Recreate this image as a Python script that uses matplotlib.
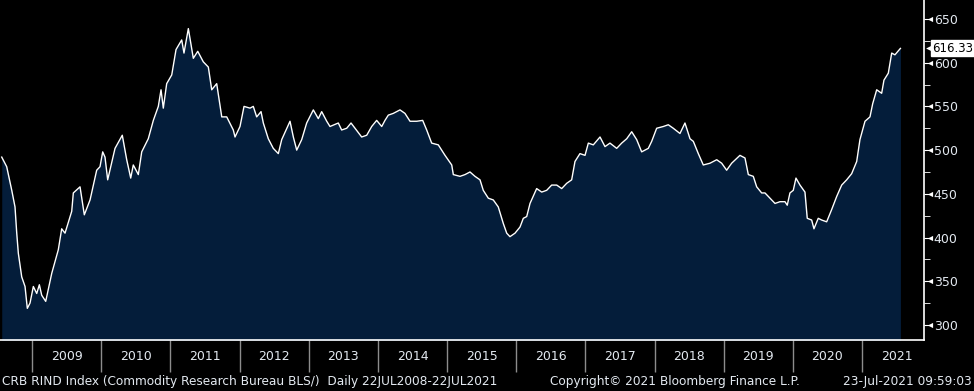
import matplotlib
matplotlib.use('Agg')
import matplotlib.pyplot as plt
import matplotlib.transforms as mtransforms

# CRB RIND index (decimal years, index level)
years = [2008.562, 2008.634, 2008.707, 2008.754, 2008.779, 2008.802, 2008.851, 2008.899, 2008.932, 2008.971,
         2009.019, 2009.068, 2009.106, 2009.140, 2009.198, 2009.285, 2009.380, 2009.429, 2009.477, 2009.574,
         2009.597, 2009.694, 2009.756, 2009.839, 2009.935, 2009.983, 2010.022, 2010.055, 2010.094, 2010.200,
         2010.305, 2010.369, 2010.427, 2010.464, 2010.537, 2010.586, 2010.681, 2010.754, 2010.826, 2010.865,
         2010.898, 2010.947, 2011.020, 2011.082, 2011.164, 2011.197, 2011.260, 2011.332, 2011.396, 2011.476,
         2011.549, 2011.598, 2011.670, 2011.743, 2011.815, 2011.910, 2011.935, 2012.007, 2012.065, 2012.152,
         2012.199, 2012.248, 2012.311, 2012.344, 2012.416, 2012.488, 2012.561, 2012.610, 2012.730, 2012.778,
         2012.827, 2012.899, 2012.971, 2013.067, 2013.139, 2013.188, 2013.261, 2013.308, 2013.428, 2013.477,
         2013.550, 2013.612, 2013.670, 2013.766, 2013.839, 2013.911, 2013.983, 2014.056, 2014.103, 2014.151,
         2014.223, 2014.320, 2014.392, 2014.465, 2014.562, 2014.648, 2014.706, 2014.778, 2014.874, 2014.971,
         2015.068, 2015.091, 2015.188, 2015.260, 2015.332, 2015.404, 2015.477, 2015.524, 2015.597, 2015.669,
         2015.741, 2015.814, 2015.863, 2015.910, 2015.983, 2016.055, 2016.103, 2016.152, 2016.200, 2016.296,
         2016.369, 2016.441, 2016.513, 2016.586, 2016.658, 2016.730, 2016.802, 2016.850, 2016.922, 2016.995,
         2017.043, 2017.115, 2017.212, 2017.284, 2017.356, 2017.453, 2017.525, 2017.598, 2017.670, 2017.742,
         2017.814, 2017.910, 2017.959, 2018.031, 2018.127, 2018.199, 2018.271, 2018.368, 2018.440, 2018.513,
         2018.561, 2018.633, 2018.705, 2018.802, 2018.899, 2018.971, 2019.043, 2019.115, 2019.235, 2019.308,
         2019.356, 2019.428, 2019.477, 2019.549, 2019.597, 2019.645, 2019.742, 2019.814, 2019.886, 2019.919,
         2019.958, 2020.006, 2020.045, 2020.103, 2020.175, 2020.208, 2020.272, 2020.305, 2020.367, 2020.417,
         2020.489, 2020.561, 2020.634, 2020.706, 2020.778, 2020.850, 2020.923, 2020.970, 2021.043, 2021.115,
         2021.154, 2021.212, 2021.284, 2021.317, 2021.380, 2021.429, 2021.476, 2021.555]
values = [492, 481, 454, 435, 405, 382, 355, 344, 319, 325,
          344, 336, 346, 334, 327, 359, 386, 410, 405, 430,
          451, 458, 426, 443, 477, 481, 498, 492, 466, 502,
          517, 489, 468, 483, 472, 498, 513, 534, 550, 569,
          548, 576, 586, 615, 626, 611, 639, 605, 613, 601,
          595, 569, 576, 538, 538, 523, 515, 527, 550, 548,
          550, 538, 544, 531, 513, 502, 496, 512, 533, 515,
          500, 512, 531, 546, 536, 544, 533, 527, 531, 523,
          525, 531, 525, 515, 517, 527, 534, 527, 534, 540,
          542, 546, 542, 533, 533, 534, 523, 508, 506, 494,
          483, 472, 470, 472, 475, 470, 466, 454, 445, 443,
          435, 416, 405, 401, 405, 412, 422, 424, 439, 456,
          452, 454, 460, 460, 456, 462, 466, 487, 496, 494,
          508, 506, 515, 504, 508, 502, 508, 513, 521, 512,
          498, 502, 510, 525, 527, 529, 525, 519, 531, 513,
          510, 496, 483, 485, 489, 485, 477, 485, 494, 491,
          472, 470, 458, 451, 451, 447, 439, 441, 441, 437,
          451, 454, 468, 460, 452, 422, 420, 410, 422, 420,
          418, 432, 447, 460, 466, 473, 487, 512, 533, 538,
          553, 569, 565, 580, 588, 611, 609, 616.33]
last_value = 616.33
year_labels = list(range(2009, 2022))
y_ticks = list(range(300, 651, 50))
y_minor = list(range(325, 651, 50))

txt = '#e3e9f0'
fig = plt.figure(figsize=(9.74, 3.91), dpi=100, facecolor='black')
ax = fig.add_axes([0, 51 / 391, 924 / 974, 340 / 391])
ax.set_facecolor('black')

ax.fill_between(years, values, 250, color='#041d3a', lw=0)
ax.plot(years, values, color='white', lw=1.0)

ax.set_xlim(2008.537, 2021.896)
ax.set_ylim(282.8, 671.7)

for s in ['top', 'left']:
    ax.spines[s].set_visible(False)
for s in ['right', 'bottom']:
    ax.spines[s].set_color('white')
    ax.spines[s].set_linewidth(1.2)

# right-hand price axis
ax.yaxis.tick_right()
ax.set_yticks(y_ticks)
ax.set_yticks(y_minor, minor=True)
ax.tick_params(axis='y', which='major', length=4, color='white', labelcolor=txt, labelsize=9, pad=3)
ax.tick_params(axis='y', which='minor', length=4, color='white')
off = mtransforms.ScaledTranslation(4 / 72, 0, fig.dpi_scale_trans)
tri = mtransforms.blended_transform_factory(ax.transAxes, ax.transData) + off
ax.scatter([1] * len(y_ticks), y_ticks, marker='<', s=14, color='white', transform=tri, clip_on=False, lw=0)

# year separators and centred year labels
ax.set_xticks(year_labels)
ax.set_xticklabels([''] * len(year_labels))
ax.set_xticks([y + 0.5 for y in year_labels], minor=True)
ax.set_xticklabels([str(y) for y in year_labels], minor=True)
ax.tick_params(axis='x', which='major', length=23, color='#8c8c8c', width=1)
ax.tick_params(axis='x', which='minor', length=0, labelcolor=txt, labelsize=9, pad=7)

# last value tag
tag = mtransforms.blended_transform_factory(ax.transAxes, ax.transData)
ax.annotate(f'{last_value:.2f}', xy=(1, last_value), xycoords=tag, xytext=(6, 0), textcoords='offset points',
            ha='left', va='center', fontsize=8.5, color='black',
            bbox=dict(boxstyle='square,pad=0.12', fc='white', ec='white'), annotation_clip=False)
ax.scatter([1], [last_value], marker='<', s=40, color='white', transform=tri, clip_on=False, lw=0)

fy = 10 / 391
fig.text(2 / 974, fy, 'CRB RIND Index (Commodity Research Bureau BLS/)  Daily 22JUL2008-22JUL2021',
         color=txt, fontsize=8.7, va='center', ha='left')
fig.text(550 / 974, fy, 'Copyright\u00a9 2021 Bloomberg Finance L.P.', color=txt, fontsize=8.7, va='center', ha='left')
fig.text(972 / 974, fy, '23-Jul-2021 09:59:03', color=txt, fontsize=8.7, va='center', ha='right')

fig.savefig('out.png', dpi=100, facecolor='black')
